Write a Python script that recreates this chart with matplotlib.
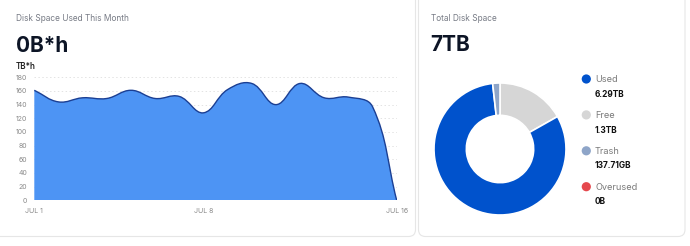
import numpy as np
import matplotlib
matplotlib.use('Agg')
import matplotlib.pyplot as plt
from matplotlib.path import Path
from matplotlib.patches import PathPatch, FancyBboxPatch, Circle
from matplotlib.transforms import IdentityTransform

plt.rcParams['font.family'] = ['Inter', 'DejaVu Sans']

# data
days = list(range(1, 17))
usage_tbh = [161, 144, 150, 149, 161, 149, 152, 128, 162, 171, 140, 171, 150, 151, 137, 0]
y_ticks = list(range(0, 181, 20))
x_tick_days = [1, 8, 16]
x_tick_labels = ['JUL 1', 'JUL 8', 'JUL 16']

legend_names = ['Used', 'Free', 'Trash', 'Overused']
legend_values = ['6.29TB', '1.3TB', '137.71GB', '0B']
legend_colors = ['#0052CC', '#D6D6D6', '#8EA5C8', '#E5484D']
# donut drawn clockwise from the top in this order
donut_names = ['Free', 'Used', 'Trash']
donut_sizes = [1.3, 6.29, 0.13771]

W, H = 690, 246
fig = plt.figure(figsize=(W / 100, H / 100), dpi=100)
fig.patch.set_facecolor('white')


def fx(x):
    return x / W


def fy(y):
    return 1 - y / H


# cards (behind everything)
for x0, x1 in [(-10, 415.5), (418.5, 685)]:
    fig.patches.append(FancyBboxPatch((x0, H - 236.5), x1 - x0, 260, boxstyle='round,pad=0,rounding_size=7',
                                      transform=IdentityTransform(), facecolor='white',
                                      edgecolor='#E6E6E6', linewidth=0.8, zorder=-5))

# headers
fig.text(fx(16), fy(21), 'Disk Space Used This Month', fontsize=6, color='#777B85', va='baseline')
fig.text(fx(16), fy(51.7), '0B*h', fontsize=15, fontweight='bold', color='#0D1526', va='baseline')
fig.text(fx(16), fy(69), 'TB*h', fontsize=5.8, fontweight='semibold', color='#222222', va='baseline')
fig.text(fx(430.7), fy(21), 'Total Disk Space', fontsize=6, color='#777B85', va='baseline')
fig.text(fx(430.7), fy(50.7), '7TB', fontsize=15, fontweight='bold', color='#0D1526', va='baseline')

# area chart
ax = fig.add_axes([fx(34.3), fy(200.3), fx(396.7) - fx(34.3), fy(77.3) - fy(200.3)])
ax.patch.set_visible(False)
ax.set_xlim(days[0], days[-1])
ax.set_ylim(0, 180)
for s in ax.spines.values():
    s.set_visible(False)
ax.set_yticks(y_ticks)
ax.set_xticks(x_tick_days)
ax.set_xticklabels(x_tick_labels)
ax.tick_params(axis='both', length=0, labelsize=5, labelcolor='#8A8A8A')
ax.tick_params(axis='y', pad=5)
ax.tick_params(axis='x', pad=5.5)
ax.set_yticks([0], minor=True)
ax.tick_params(axis='y', which='minor', length=3, width=0.6, color='#BBBBBB')
ax.grid(axis='y', color='#E3E3E3', linestyle=(0, (1.5, 2.5)), linewidth=0.7)
ax.set_axisbelow(True)

# smooth bezier like chart.js (tension 0.4), computed in pixel space
pts = ax.transData.transform(np.column_stack([days, usage_tbh]))
n = len(pts)
cps = []
for i in range(n):
    prev = pts[max(i - 1, 0)]
    cur = pts[i]
    nxt = pts[min(i + 1, n - 1)]
    d01 = np.hypot(*(cur - prev))
    d12 = np.hypot(*(nxt - cur))
    tot = d01 + d12
    s01 = d01 / tot if tot else 0
    s12 = d12 / tot if tot else 0
    cps.append((cur - 0.4 * s01 * (nxt - prev), cur + 0.4 * s12 * (nxt - prev)))
bb = ax.bbox
verts = [pts[0]]
codes = [Path.MOVETO]
for i in range(n - 1):
    for v in (cps[i][1], cps[i + 1][0], pts[i + 1]):
        v = np.array([v[0], np.clip(v[1], bb.y0, bb.y1)])
        verts.append(v)
        codes.append(Path.CURVE4)
verts = ax.transData.inverted().transform(np.array(verts))
line_path = Path(verts, codes)
fill_verts = np.vstack([verts, [[days[-1], 0], [days[0], 0], [days[0], 0]]])
fill_codes = codes + [Path.LINETO, Path.LINETO, Path.CLOSEPOLY]
ax.add_patch(PathPatch(Path(fill_verts, fill_codes), facecolor='#4D94F4', edgecolor='none', zorder=2))
ax.add_patch(PathPatch(line_path, facecolor='none', edgecolor='#1B3F93', linewidth=1.0, zorder=3))

# donut
cx, cy, r = 500, 149, 66
dax = fig.add_axes([fx(cx - r), fy(cy + r), 2 * r / W, 2 * r / H])
size_colors = [legend_colors[legend_names.index(nm)] for nm in donut_names]
dax.pie(donut_sizes, colors=size_colors, startangle=90, counterclock=False, radius=1,
        wedgeprops=dict(width=0.49, edgecolor='white', linewidth=1.2))
dax.set_xlim(-1.0, 1.0)
dax.set_ylim(-1.0, 1.0)
dax.set_aspect('equal')

# legend
for i, (nm, val, col) in enumerate(zip(legend_names, legend_values, legend_colors)):
    base = 82.3 + 35.9 * i
    fig.patches.append(Circle((586.3, H - (base - 3.3)), 4.6, transform=IdentityTransform(),
                              facecolor=col, edgecolor='none'))
    fig.text(fx(595), fy(base), nm, fontsize=6.6, color='#7A7A7A', va='baseline')
    fig.text(fx(595), fy(base + 14.4), val, fontsize=6, fontweight='bold', color='#111111', va='baseline')

fig.savefig('out.png', dpi=100, facecolor='white')
